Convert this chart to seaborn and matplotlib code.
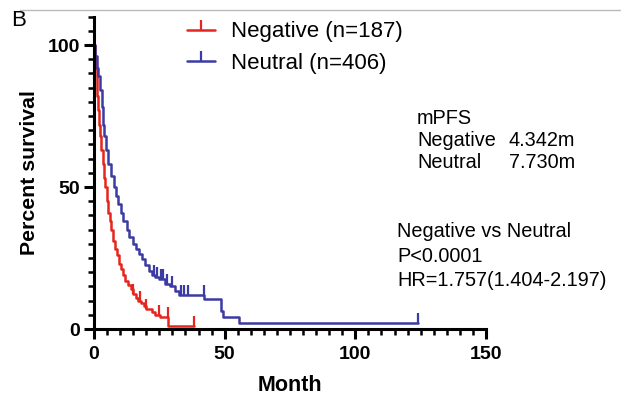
import numpy as np
import pandas as pd
import seaborn as sns
import matplotlib.pyplot as plt
from matplotlib.lines import Line2D
from matplotlib.ticker import MultipleLocator

# step points (month, percent survival)
neg_time = [0, 0.3, 0.6, 1.0, 1.3, 1.6, 2.0, 2.4, 2.8, 3.3, 3.8, 4.3, 4.8, 5.4,
            6.0, 6.6, 7.3, 8.0, 8.8, 9.5, 10.2, 11.0, 12.0, 13.0, 14.0, 15.0,
            16.0, 17.0, 18.0, 19.0, 20.0, 22.0, 23.5, 25.3, 28.3, 38.3]
neg_surv = [100, 96, 92, 87, 82, 77, 72, 68, 63, 58, 53, 50, 45, 41,
            38, 35, 31, 28, 26, 23, 21, 19, 17, 15.5, 14, 12.5,
            11, 10, 9, 8, 7, 6, 5, 4.3, 1.1, 1.1]
neg_cens_t = [15.0, 17.5, 20.0, 25.0, 28.3, 38.3]
neg_cens_s = [12.5, 10, 7, 5, 4.3, 1.1]

neu_time = [0, 0.5, 1.0, 1.6, 2.3, 2.9, 3.4, 4.0, 4.7, 5.5, 6.5, 7.7, 8.5, 9.3,
            10.2, 11.2, 12.5, 13.5, 14.8, 16.0, 17.2, 18.5, 19.7, 21.0, 22.0,
            23.5, 25.0, 27.0, 29.0, 31.0, 32.5, 42.0, 48.6, 49.5, 55.5, 124.0]
neu_surv = [100, 96, 92, 89, 84, 78, 72, 68, 63, 58, 54, 50, 47, 44,
            41, 38, 35, 32.5, 30, 28, 26.5, 24.5, 22.5, 20.5, 19,
            18.3, 17.5, 16, 15, 13.5, 12, 10.4, 6.3, 4.3, 2.2, 2.2]
neu_cens_t = [23.0, 24.0, 25.5, 26.5, 28.0, 30.0, 33.3, 34.6, 35.9, 42.0, 124.0]
neu_cens_s = [19, 18.3, 17.5, 17.5, 16, 15, 12, 12, 12, 12, 2.2]

groups = ["Negative (n=187)", "Neutral (n=406)"]
colors = ["#E5261E", "#3B3BA3"]

mpfs_labels = ["Negative", "Neutral"]
mpfs_values = ["4.342m", "7.730m"]
stats_lines = ["Negative vs Neutral", "P<0.0001", "HR=1.757(1.404-2.197)"]

df = pd.DataFrame({
    "Month": neg_time + neu_time,
    "Survival": neg_surv + neu_surv,
    "Group": [groups[0]] * len(neg_time) + [groups[1]] * len(neu_time),
})

sns.set_style("ticks")
plt.rcParams["font.family"] = ["Liberation Sans", "DejaVu Sans"]
plt.rcParams["text.color"] = "black"
plt.rcParams["axes.labelcolor"] = "black"
plt.rcParams["xtick.color"] = "black"
plt.rcParams["ytick.color"] = "black"

W, H = 621, 404
fig = plt.figure(figsize=(W / 100, H / 100), dpi=100)
ax = fig.add_axes([0.1514, 0.1856, 0.6312, 0.7733])

sns.lineplot(data=df, x="Month", y="Survival", hue="Group", palette=colors,
             estimator=None, sort=False, drawstyle="steps-post", lw=1.8,
             legend=False, ax=ax, clip_on=False)
ax.plot(neg_cens_t, neg_cens_s, ls="none", marker=2, ms=7, mew=1.6,
        color=colors[0], clip_on=False)
ax.plot(neu_cens_t, neu_cens_s, ls="none", marker=2, ms=7, mew=1.6,
        color=colors[1], clip_on=False)

ax.set_xlim(0, 150)
ax.set_ylim(0, 110)
ax.xaxis.set_major_locator(MultipleLocator(50))
ax.xaxis.set_minor_locator(MultipleLocator(5))
ax.yaxis.set_major_locator(MultipleLocator(50))
ax.yaxis.set_minor_locator(MultipleLocator(5))
for s in ["top", "right"]:
    ax.spines[s].set_visible(False)
for s in ["left", "bottom"]:
    ax.spines[s].set_linewidth(2.2)
    ax.spines[s].set_color("black")
ax.tick_params(which="major", length=7, width=2.2, labelsize=14, pad=3)
ax.tick_params(axis="x", which="major", pad=5)
ax.tick_params(which="minor", length=4.5, width=1.8)
for lab in ax.get_xticklabels() + ax.get_yticklabels():
    lab.set_fontweight("bold")
ax.set_xlabel("Month", fontsize=15.5, fontweight="bold", labelpad=9)
ax.set_ylabel("Percent survival", fontsize=15.3, fontweight="bold", labelpad=6)

handles = [Line2D([], [], color=c, lw=1.8, marker=2, ms=7, mew=1.6)
           for c in colors]
ax.legend(handles, groups, loc="upper left", bbox_to_anchor=(0.237, 0.985),
          frameon=False, fontsize=16, handlelength=1.25, handletextpad=0.75,
          labelspacing=0.48, numpoints=1, borderpad=0, borderaxespad=0)


def px(x, y):
    return x / W, 1 - y / H


fig.text(*px(417, 118), "mPFS", fontsize=14.3, va="center", ha="left")
for i, (lab, val) in enumerate(zip(mpfs_labels, mpfs_values)):
    y = 140 + 22 * i
    fig.text(*px(417, y), lab, fontsize=14.3, va="center", ha="left")
    fig.text(*px(575, y), val, fontsize=14.3, va="center", ha="right")
for i, line in enumerate(stats_lines):
    fig.text(*px(397, 232 + 24.5 * i), line, fontsize=14.3, va="center",
             ha="left")
fig.text(*px(11, 20), "B", fontsize=16, va="center", ha="left")
fig.add_artist(Line2D([20 / W, 1.0], [1 - 10 / H, 1 - 10 / H],
                      color="#bbbbbb", lw=1))

fig.savefig("out.png", dpi=100)
